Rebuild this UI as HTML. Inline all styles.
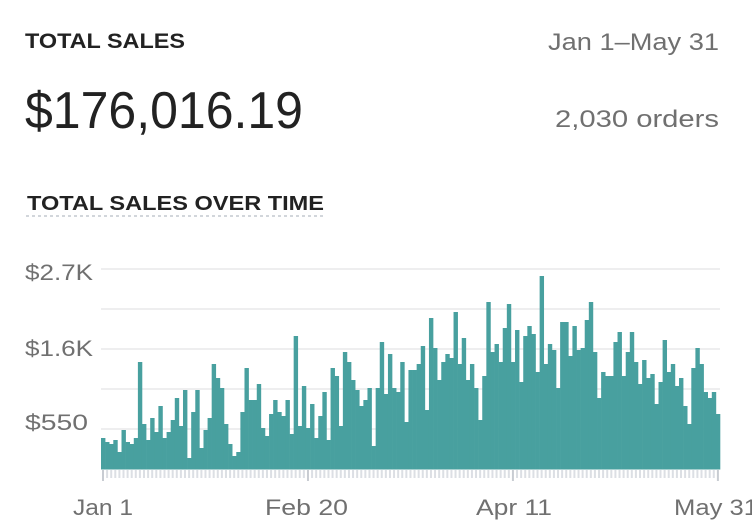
<!DOCTYPE html>
<html><head><meta charset="utf-8"><style>
html,body{margin:0;padding:0;background:#fff;width:752px;height:532px;overflow:hidden}
svg{display:block;font-family:"Liberation Sans",sans-serif}
</style></head><body>
<svg id="s" width="752" height="532" viewBox="0 0 752 532">
<text x="25" y="48" font-size="21" font-weight="bold" fill="#222" textLength="160" lengthAdjust="spacingAndGlyphs">TOTAL SALES</text>
<text x="25" y="128" font-size="52" fill="#222" textLength="278" lengthAdjust="spacingAndGlyphs">$176,016.19</text>
<text x="719" y="50" font-size="24" fill="#707070" text-anchor="end" textLength="171" lengthAdjust="spacingAndGlyphs">Jan 1–May 31</text>
<text x="719" y="127" font-size="24" fill="#707070" text-anchor="end" textLength="164" lengthAdjust="spacingAndGlyphs">2,030 orders</text>
<text x="27" y="210" font-size="20" font-weight="bold" fill="#222" textLength="297" lengthAdjust="spacingAndGlyphs">TOTAL SALES OVER TIME</text>
<line x1="26" y1="216" x2="326" y2="216" stroke="#c4c9cf" stroke-width="1.5" stroke-dasharray="3,3"/>
<g stroke="#e8e8ea" stroke-width="1.5">
<line x1="101" y1="269" x2="720" y2="269"/><line x1="101" y1="309" x2="720" y2="309"/>
<line x1="101" y1="349" x2="720" y2="349"/><line x1="101" y1="389" x2="720" y2="389"/>
<line x1="101" y1="429" x2="720" y2="429"/></g>
<g font-size="22" fill="#707070">
<text x="25" y="280" textLength="68" lengthAdjust="spacingAndGlyphs">$2.7K</text>
<text x="25" y="356" textLength="68" lengthAdjust="spacingAndGlyphs">$1.6K</text>
<text x="25" y="430" textLength="63" lengthAdjust="spacingAndGlyphs">$550</text>
<text x="73" y="515" textLength="60" lengthAdjust="spacingAndGlyphs">Jan 1</text>
<text x="265" y="515" textLength="83" lengthAdjust="spacingAndGlyphs">Feb 20</text>
<text x="476" y="515" textLength="76" lengthAdjust="spacingAndGlyphs">Apr 11</text>
<text x="674" y="515" textLength="84" lengthAdjust="spacingAndGlyphs">May 31</text>
</g>
<g id="bars" fill="#48a09f"></g>
<g id="ticks" fill="#dcdfe4"></g>
</svg>
<script>
(function(){
var z=[534,546,552,540,576,510,546,552,534,306,492,540,474,516,438,534,516,480,414,498,390,594,456,390,564,510,474,312,354,384,492,552,588,576,456,324,420,420,372,504,528,462,420,456,468,420,522,228,498,378,504,432,
534,468,396,540,324,348,498,276,306,360,390,438,420,384,558,384,246,402,282,384,396,306,486,330,330,312,258,450,174,264,360,306,282,294,156,312,234,360,312,384,480,348,126,276,252,306,204,132,306,210,366,228,198,
222,336,48,312,252,270,384,186,186,288,198,270,264,180,126,276,414,336,348,348,246,216,348,276,216,306,372,300,354,342,432,366,240,336,312,378,354,438,492,324,264,312,396,414,396,462];
var ns="http://www.w3.org/2000/svg",b=document.getElementById("bars"),t=document.getElementById("ticks");
var w=619/z.length;
for(var i=0;i<z.length;i++){
 var ty=260+z[i]/3,x=101+i*w;
 var r=document.createElementNS(ns,"rect");
 r.setAttribute("x",x.toFixed(2));r.setAttribute("y",ty.toFixed(2));
 r.setAttribute("width",(w+0.3).toFixed(2));r.setAttribute("height",(469.5-ty).toFixed(2));
 b.appendChild(r);
 var k=document.createElementNS(ns,"rect");
 var big=(i==0||i==50||i==100||i==z.length-1);
 k.setAttribute("x",(x+1).toFixed(2));k.setAttribute("y","470");
 k.setAttribute("width","2");k.setAttribute("height",big?"11":"8");
 if(big)k.setAttribute("fill","#c8ccd2");
 t.appendChild(k);
}
})();
</script>
</body></html>
